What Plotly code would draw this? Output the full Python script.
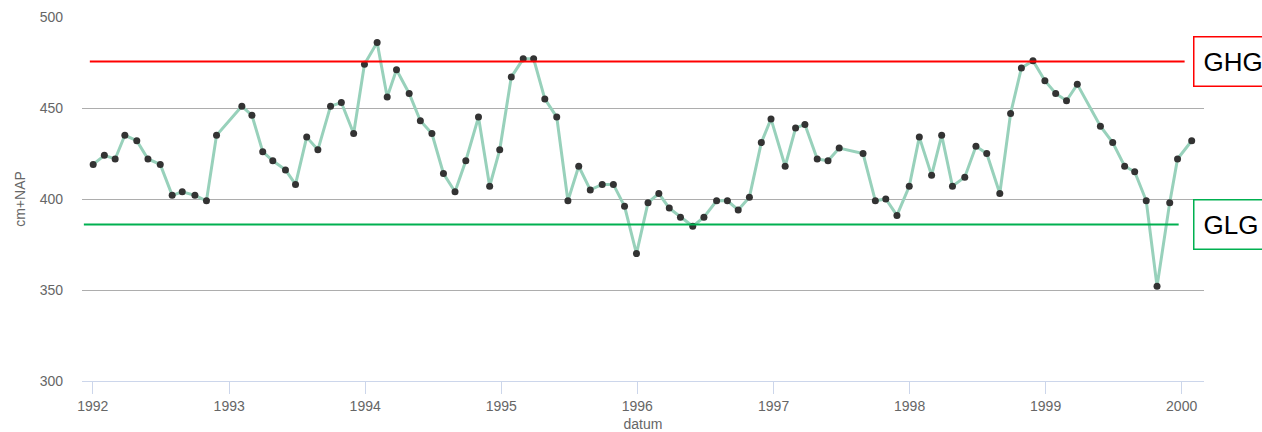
import plotly.graph_objects as go

# Groundwater level measurements (cm+NAP), roughly one reading per month
dates = [
    "1992-01-02", "1992-02-01", "1992-03-01", "1992-03-27", "1992-04-28", "1992-05-28",
    "1992-06-30", "1992-08-01", "1992-08-28", "1992-10-01", "1992-11-01", "1992-11-28",
    "1993-02-04", "1993-03-03", "1993-04-01", "1993-04-28", "1993-06-01", "1993-06-28",
    "1993-07-28", "1993-08-27", "1993-09-30", "1993-10-29", "1993-12-01", "1993-12-30",
    "1994-02-02", "1994-03-01", "1994-03-26", "1994-04-29", "1994-05-29", "1994-06-29",
    "1994-07-30", "1994-08-30", "1994-09-28", "1994-11-01", "1994-12-01", "1994-12-28",
    "1995-01-28", "1995-03-01", "1995-03-29", "1995-04-28", "1995-05-30", "1995-06-29",
    "1995-07-28", "1995-08-28", "1995-09-29", "1995-10-29", "1995-11-28", "1995-12-30",
    "1996-01-30", "1996-02-28", "1996-03-27", "1996-04-26", "1996-05-29", "1996-06-28",
    "1996-08-01", "1996-08-30", "1996-09-28", "1996-10-28", "1996-11-29", "1996-12-25",
    "1997-02-01", "1997-03-01", "1997-03-26", "1997-04-28", "1997-05-27", "1997-06-26",
    "1997-08-29", "1997-10-01", "1997-10-29", "1997-11-28", "1997-12-31",
    "1998-01-27", "1998-03-01", "1998-03-28", "1998-04-26", "1998-05-29", "1998-06-28",
    "1998-07-27", "1998-08-31", "1998-09-29", "1998-10-28", "1998-11-28", "1998-12-30",
    "1999-01-28", "1999-02-26", "1999-03-27", "1999-05-28", "1999-06-30", "1999-08-01",
    "1999-08-28", "1999-09-28", "1999-10-27", "1999-11-30", "1999-12-21",
    "2000-01-28",
]

levels = [
    419, 424, 422, 435, 432, 422, 419, 402, 404, 402, 399, 435,
    451, 446, 426, 421, 416, 408, 434, 427, 451, 453, 436, 474,
    486, 456, 471, 458, 443, 436, 414, 404, 421, 445, 407, 427,
    467, 477, 477, 455, 445, 399, 418, 405, 408, 408, 396, 370,
    398, 403, 395, 390, 385, 390, 399, 399, 394, 401, 431, 444,
    418, 439, 441, 422, 421, 428, 425, 399, 400, 391, 407,
    434, 413, 435, 407, 412, 429, 425, 403, 447, 472, 476, 465,
    458, 454, 463, 440, 431, 418, 415, 399, 352, 398, 422,
    432,
]

# Characteristic levels: mean highest (GHG) and mean lowest (GLG) groundwater level
ghg_level = 475.5
glg_level = 386
ghg_span = ["1991-12-24", "2000-01-09"]
glg_span = ["1991-12-08", "1999-12-24"]

year_ticks = ["1992-01-01", "1993-01-01", "1994-01-01", "1995-01-01", "1996-01-01",
              "1997-01-01", "1998-01-01", "1999-01-01", "2000-01-01"]
year_labels = ["1992", "1993", "1994", "1995", "1996", "1997", "1998", "1999", "2000"]
y_ticks = [300, 350, 400, 450, 500]

label_font = dict(family="Arial, Liberation Sans, sans-serif", size=14, color="#666666")

fig = go.Figure()

fig.add_trace(go.Scatter(
    x=dates, y=levels, mode="lines+markers",
    line=dict(color="#98d1bb", width=3),
    marker=dict(color="#333333", size=7),
    showlegend=False,
))

fig.add_shape(type="line", xref="x", yref="y",
              x0=ghg_span[0], x1=ghg_span[1], y0=ghg_level, y1=ghg_level,
              line=dict(color="#ff0000", width=2))
fig.add_shape(type="line", xref="x", yref="y",
              x0=glg_span[0], x1=glg_span[1], y0=glg_level, y1=glg_level,
              line=dict(color="#00b050", width=2))

for name, lvl, col in [("GHG", ghg_level, "#ff0000"), ("GLG", glg_level, "#00b050")]:
    fig.add_annotation(
        x=0.990, xref="paper", xanchor="left",
        y=lvl, yref="y", yanchor="middle",
        text=name, showarrow=False,
        font=dict(family="Arial, Liberation Sans, sans-serif", size=26, color="#000000"),
        bordercolor=col, borderwidth=1.5, borderpad=9, bgcolor="#ffffff",
        align="left",
    )

fig.update_xaxes(
    type="date",
    range=["1991-12-03", "2000-03-01"],
    tickvals=year_ticks, ticktext=year_labels,
    ticks="outside", ticklen=12, tickcolor="#ccd6eb", tickwidth=1,
    showline=True, linecolor="#ccd6eb", linewidth=1,
    showgrid=False, zeroline=False,
    tickfont=label_font, automargin=False,
    title=dict(text="datum", font=label_font, standoff=6),
)
fig.update_yaxes(
    range=[300, 500],
    tickvals=y_ticks,
    showgrid=True, gridcolor="#adadad", gridwidth=1,
    zeroline=False, showline=False,
    ticks="", ticklabelstandoff=18,
    tickfont=label_font, automargin=False,
    title=dict(text="cm+NAP", font=label_font, standoff=10),
)

fig.update_layout(
    width=1262, height=432,
    margin=dict(l=82, r=58, t=17, b=51),
    paper_bgcolor="#ffffff", plot_bgcolor="#ffffff",
    font=label_font,
)

fig.write_html("out.html")
